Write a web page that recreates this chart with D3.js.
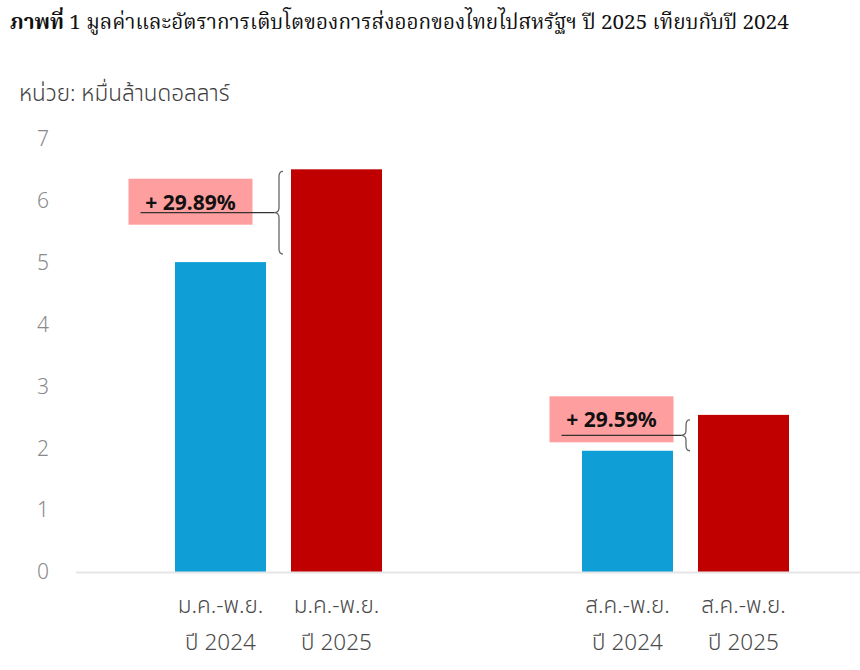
<!DOCTYPE html>
<html>
<head>
<meta charset="utf-8">
<script src="https://cdn.jsdelivr.net/npm/d3@7"></script>
<style>
  body { margin: 0; background: #fff; }
  svg { display: block; }
</style>
</head>
<body>
<div id="chart"></div>
<script>
// Data (หมื่นล้านดอลลาร์)
const groups = ['jan', 'aug'];
const years = ['2024', '2025'];
const periodLabels = ['ม.ค.-พ.ย.', 'ส.ค.-พ.ย.'];
const yearLabels = ['ปี 2024', 'ปี 2025'];
const values2024 = [5.01, 1.96];
const values2025 = [6.51, 2.54];
const growthLabels = ['+ 29.89%', '+ 29.59%'];
const yTicks = [0, 1, 2, 3, 4, 5, 6, 7];

const width = 860;
const height = 670;
const colors = { '2024': '#0f9fd6', '2025': '#c00000' };
const thaiSans = '"Noto Sans Thai", "Noto Sans", sans-serif';

const svg = d3.select('#chart').append('svg')
    .attr('width', width)
    .attr('height', height);

// Title
const title = svg.append('text')
    .attr('x', 10)
    .attr('y', 29)
    .style('font-family', '"Noto Serif Thai", "Noto Serif", "DejaVu Serif", serif')
    .style('font-size', '20.7px')
    .attr('fill', '#111');
title.append('tspan').style('font-weight', 'bold').text('ภาพที่');
title.append('tspan').text(' 1 มูลค่าและอัตราการเติบโตของการส่งออกของไทยไปสหรัฐฯ ปี 2025 เทียบกับปี 2024');

// Unit
svg.append('text')
    .attr('x', 19)
    .attr('y', 101)
    .style('font-family', thaiSans)
    .style('font-size', '22.5px')
    .style('font-weight', '300')
    .attr('fill', '#404040')
    .text('หน่วย: หมื่นล้านดอลลาร์');

// Scales
const yScale = d3.scaleLinear().domain([0, 7]).range([572, 139]);

const xGroup = d3.scaleBand()
    .domain(groups)
    .range([134.3, 829.7])
    .paddingInner(0.4914)
    .paddingOuter(0.1);

const xYear = d3.scaleBand()
    .domain(years)
    .range([0, xGroup.bandwidth()])
    .paddingInner(0.2155);

// Y axis labels (no line)
const yAxis = svg.append('g')
    .attr('transform', 'translate(50,0)')
    .call(d3.axisLeft(yScale).tickValues(yTicks).tickFormat(d3.format('d')).tickSize(0).tickPadding(0));
yAxis.select('.domain').remove();
yAxis.selectAll('text')
    .attr('text-anchor', 'middle')
    .attr('x', -7)
    .style('font-family', thaiSans)
    .style('font-size', '21px')
    .style('font-weight', '300')
    .attr('fill', '#8a8a8a');

// Bars
const rows = groups.map((g, i) => ({
    group: g,
    bars: [
        { year: '2024', value: values2024[i] },
        { year: '2025', value: values2025[i] },
    ],
}));

const gGroups = svg.append('g').selectAll('g')
    .data(rows)
    .join('g')
    .attr('transform', d => `translate(${xGroup(d.group)},0)`);

gGroups.selectAll('rect')
    .data(d => d.bars)
    .join('rect')
    .attr('x', d => xYear(d.year))
    .attr('width', xYear.bandwidth())
    .attr('y', d => yScale(d.value))
    .attr('height', d => yScale(0) - yScale(d.value))
    .attr('fill', d => colors[d.year]);

// Baseline
svg.append('line')
    .attr('x1', 76)
    .attr('x2', width)
    .attr('y1', yScale(0) + 0.5)
    .attr('y2', yScale(0) + 0.5)
    .attr('stroke', '#e6e6e6')
    .attr('stroke-width', 2);

// Category labels
gGroups.each(function (d, i) {
    const g = d3.select(this);
    years.forEach((yr, j) => {
        const cx = xYear(yr) + xYear.bandwidth() / 2;
        const t = g.append('text')
            .attr('text-anchor', 'middle')
            .style('font-family', thaiSans)
            .style('font-size', '22.5px')
            .style('font-weight', '300')
            .attr('fill', '#4a4a4a');
        t.append('tspan').attr('x', cx).attr('y', 613).text(periodLabels[i]);
        t.append('tspan').attr('x', cx).attr('y', 650).text(yearLabels[j]);
    });
});

// Growth annotations: brace between bar tops, pink label box
const boxDx = [15.5, 29.5];   // box centre from left of 2024 bar
const boxDy = [34, 39];       // box top above brace middle
const insetTop = [2, 5];
const insetBottom = [8, 0];
rows.forEach((d, i) => {
    const redX = xGroup(d.group) + xYear('2025');
    const blueX = xGroup(d.group) + xYear('2024');
    const y0 = yScale(values2025[i]) + insetTop[i];
    const y1 = yScale(values2024[i]) - insetBottom[i];
    const ym = (y0 + y1) / 2;
    const tip = redX - 17;
    const back = redX - 8;
    const mid = tip + 5;
    const r = 5;

    const path = d3.path();
    path.moveTo(back, y0);
    path.quadraticCurveTo(mid, y0, mid, y0 + r);
    path.lineTo(mid, ym - r);
    path.quadraticCurveTo(mid, ym, tip, ym);
    path.quadraticCurveTo(mid, ym, mid, ym + r);
    path.lineTo(mid, y1 - r);
    path.quadraticCurveTo(mid, y1, back, y1);

    const bw = 124, bh = 46;
    const cx = blueX + boxDx[i];
    const bx = cx - bw / 2;
    const by = ym - boxDy[i];

    svg.append('rect')
        .attr('x', bx)
        .attr('y', by)
        .attr('width', bw)
        .attr('height', bh)
        .attr('fill', '#ff9e9e');

    svg.append('text')
        .attr('x', cx)
        .attr('y', by + 31)
        .attr('text-anchor', 'middle')
        .style('font-family', '"Noto Sans", "DejaVu Sans", sans-serif')
        .style('font-size', '21px')
        .style('font-weight', 'bold')
        .attr('fill', '#111')
        .text(growthLabels[i]);

    svg.append('line')
        .attr('x1', bx + 12)
        .attr('x2', tip)
        .attr('y1', ym)
        .attr('y2', ym)
        .attr('stroke', '#333')
        .attr('stroke-width', 1.2);

    svg.append('path')
        .attr('d', path.toString())
        .attr('fill', 'none')
        .attr('stroke', '#666')
        .attr('stroke-width', 1.3);
});
</script>
</body>
</html>
